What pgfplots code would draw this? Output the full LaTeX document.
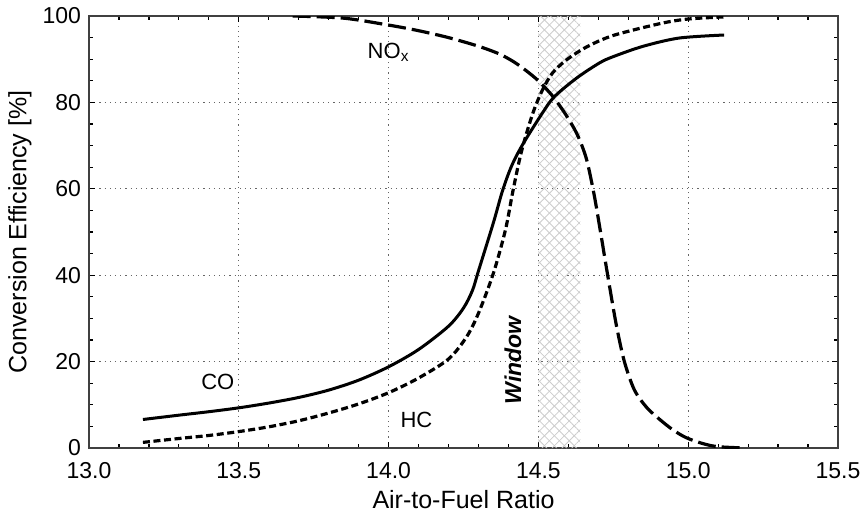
\documentclass[border=0pt]{standalone}
\usepackage{pgfplots}
\pgfplotsset{compat=1.18}
\usepackage{fontspec}
\setmainfont{Liberation Sans}
\usetikzlibrary{patterns.meta}

\begin{document}
\begin{tikzpicture}
\begin{axis}[
  at={(0,0)}, anchor=south west,
  scale only axis, width=374.5pt, height=216pt,
  xmin=13, xmax=15.5, ymin=0, ymax=100,
  xtick={13,13.5,14,14.5,15,15.5}, ytick={0,20,40,60,80,100},
  minor x tick num=4, minor y tick num=3,
  tick align=inside,
  /pgf/number format/assume math mode=true,
  xticklabel style={/pgf/number format/fixed, /pgf/number format/fixed zerofill, /pgf/number format/precision=1},
  x tick label style={font=\fontsize{11.5}{13}\selectfont, anchor=center, yshift=-11.5pt},
  y tick label style={font=\fontsize{11.5}{13}\selectfont, xshift=-0.5pt},
  grid=major,
  major grid style={line width=0.6pt, dotted, gray!80!black},
  axis line style={line width=1pt, gray!50!black},
  major tick length=3pt, minor tick length=2pt,
  tick style={line width=0.6pt, black},
  xlabel={Air-to-Fuel Ratio},
  ylabel={Conversion Efficiency [\%]},
  label style={font=\fontsize{12.5}{14}\selectfont},
  xlabel style={at={(axis description cs:0.5,0)}, anchor=center, yshift=-26pt},
  ylabel style={at={(axis description cs:0,0.5)}, anchor=center, yshift=34.5pt},
]
% Window band
\addplot[draw=none, pattern={Lines[angle=45,distance=3.5pt,line width=0.4pt]}, pattern color=gray!40, forget plot]
  coordinates {(14.5,0) (14.5,100) (14.64,100) (14.64,0)} \closedcycle;
\addplot[draw=none, pattern={Lines[angle=-45,distance=3.5pt,line width=0.4pt]}, pattern color=gray!40, forget plot]
  coordinates {(14.5,0) (14.5,100) (14.64,100) (14.64,0)} \closedcycle;

% CO
\addplot[black, line width=1.5pt, smooth, tension=0.5] coordinates {
(13.18,6.6) (13.3,7.6) (13.4,8.4) (13.5,9.3) (13.6,10.4) (13.7,11.7) (13.8,13.4)
(13.9,15.7) (14.0,18.8) (14.1,22.8) (14.2,28.2) (14.25,32.4) (14.28,36.5)
(14.3,41) (14.35,52.2) (14.38,59.5) (14.41,65.2)
(14.447,70.2) (14.513,77.5) (14.553,81.3) (14.627,85.6) (14.703,89.1) (14.75,90.6)
(14.85,93) (14.97,94.9) (15.12,95.6)
};
% HC
\addplot[black, line width=1.6pt, dash pattern=on 3.5pt off 1.8pt, smooth, tension=0.5] coordinates {
(13.18,1.3) (13.3,2.2) (13.4,2.9) (13.5,3.8) (13.6,4.9) (13.7,6.3) (13.8,8.1)
(13.9,10.2) (14.0,12.8) (14.1,16.2) (14.2,20.6) (14.26,25.7) (14.3,31.2)
(14.35,40.5) (14.39,50.5) (14.415,59.5) (14.443,68.5)
(14.48,77.2) (14.513,82.8) (14.547,86.8) (14.593,89.8) (14.66,92.8) (14.75,95.5)
(14.91,98.3) (15.0,99.3) (15.12,99.8)
};
% NOx
\addplot[black, line width=1.6pt, dash pattern=on 9pt off 3pt, smooth, tension=0.5] coordinates {
(13.68,100) (13.85,99.5) (14.0,97.9) (14.1,96.6) (14.2,95) (14.3,93) (14.37,91.2)
(14.42,89.3) (14.46,87.3) (14.5,85) (14.547,81.5) (14.593,77) (14.63,72.5)
(14.66,67) (14.685,59) (14.705,51) (14.73,40.5) (14.76,28.5) (14.787,20)
(14.82,13.5) (14.86,9.5) (14.9,6.9) (14.947,4.3)
(14.993,2.4) (15.05,1.0) (15.1,0.3) (15.19,0)
};

\node[font=\fontsize{11}{13}\selectfont] at (axis cs:13.43,15.3) {CO};
\node[font=\fontsize{11}{13}\selectfont] at (axis cs:14.093,6.5) {HC};
\node[font=\fontsize{11}{13}\selectfont] at (axis cs:14.0,91.6) {NO\textsubscript{x}};
\node[font=\bfseries\itshape\fontsize{11.5}{13}\selectfont, rotate=90] at (axis cs:14.415,20.3) {Window};
\end{axis}
\pgfresetboundingbox
\path (-44.5pt,-33.5pt) rectangle (386.5pt,224pt);
\end{tikzpicture}
\end{document}
